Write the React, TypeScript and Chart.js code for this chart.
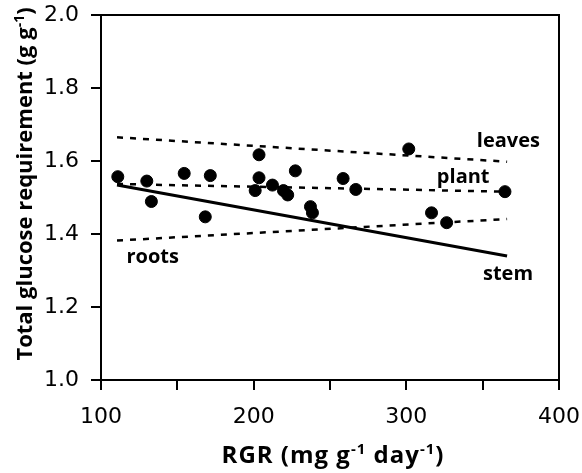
import React, { useEffect, useRef } from "react";
import { Chart, registerables } from "chart.js";

Chart.register(...registerables);

const rgr = [111, 130, 133, 154.5, 171.6, 168.3, 203.5, 203.5, 201, 212.3, 219.5, 222.3, 227.3, 237.2, 238.5, 258.6, 266.9, 301.6, 316.5, 326.4, 364.6];
const glucose = [1.557, 1.545, 1.489, 1.566, 1.56, 1.447, 1.617, 1.554, 1.519, 1.534, 1.519, 1.507, 1.573, 1.475, 1.458, 1.552, 1.522, 1.633, 1.458, 1.431, 1.516];

const lineX = [110.5, 366];
const leavesY = [1.665, 1.598];
const plantY = [1.537, 1.516];
const stemY = [1.534, 1.34];
const rootsY = [1.382, 1.441];

const xTicks = [100, 150, 200, 250, 300, 350, 400];
const xTickLabels = ["100", "", "200", "", "300", "", "400"];
const yTicks = [1.0, 1.2, 1.4, 1.6, 1.8, 2.0];

const lineLabels = ["leaves", "plant", "stem", "roots"];
const lineLabelPos = [
  [346.2, 1.638],
  [320, 1.54],
  [350.2, 1.274],
  [116.7, 1.321],
];

const FONT = "'DejaVu Sans', sans-serif";
const LABEL_FONT = "'Open Sans', sans-serif";

function drawRich(
  ctx: CanvasRenderingContext2D,
  parts: [string, boolean][],
  x: number,
  y: number,
  size: number,
  supSize: number,
  family: string,
  spacing: number
) {
  (ctx as any).letterSpacing = `${spacing}px`;
  let total = 0;
  for (const [t, sup] of parts) {
    ctx.font = `bold ${sup ? supSize : size}px ${family}`;
    total += ctx.measureText(t).width;
  }
  let cx = x - total / 2;
  ctx.textAlign = "left";
  ctx.textBaseline = "alphabetic";
  for (const [t, sup] of parts) {
    ctx.font = `bold ${sup ? supSize : size}px ${family}`;
    ctx.fillText(t, cx, sup ? y - size * 0.38 : y);
    cx += ctx.measureText(t).width;
  }
  (ctx as any).letterSpacing = "0px";
}

const decorPlugin = {
  id: "decor",
  afterDraw(chart: any) {
    const { ctx, chartArea, scales } = chart;
    ctx.save();
    ctx.strokeStyle = "#000";
    ctx.lineWidth = 2;
    ctx.strokeRect(chartArea.left, chartArea.top, chartArea.right - chartArea.left, chartArea.bottom - chartArea.top);

    ctx.fillStyle = "#000";
    ctx.font = `bold 20px ${LABEL_FONT}`;
    ctx.textAlign = "left";
    ctx.textBaseline = "alphabetic";
    lineLabels.forEach((t, i) => {
      const px = scales.x.getPixelForValue(lineLabelPos[i][0]);
      const py = scales.y.getPixelForValue(lineLabelPos[i][1]);
      ctx.fillText(t, px, py);
    });

    drawRich(
      ctx,
      [["RGR (mg g", false], ["-1", true], [" day", false], ["-1", true], [")", false]],
      333,
      463,
      24,
      15,
      LABEL_FONT,
      1
    );

    ctx.save();
    ctx.translate(32, 184);
    ctx.rotate(-Math.PI / 2);
    drawRich(ctx, [["Total glucose requirement (g g", false], ["-1", true], [")", false]], 0, 0, 22, 14, LABEL_FONT, 0);
    ctx.restore();
    ctx.restore();
  },
};

export default function App() {
  const ref = useRef<HTMLCanvasElement>(null);
  useEffect(() => {
    const lineDs = (label: string, ys: number[], dash: number[], width: number) => ({
      type: "line" as const,
      label,
      data: lineX.map((x, i) => ({ x, y: ys[i] })),
      borderColor: "#000",
      borderWidth: width,
      borderDash: dash,
      borderCapStyle: "butt",
      pointRadius: 0,
      fill: false,
      tension: 0,
    });
    const chart = new Chart(ref.current!, {
      type: "scatter",
      data: {
        datasets: [
          lineDs("leaves", leavesY, [6, 7], 2.5),
          lineDs("plant", plantY, [6, 7], 2.5),
          lineDs("stem", stemY, [], 3),
          lineDs("roots", rootsY, [6, 7], 2.5),
          {
            type: "scatter",
            label: "data",
            data: rgr.map((x, i) => ({ x, y: glucose[i] })),
            backgroundColor: "#000",
            borderColor: "#000",
            pointRadius: 6,
            pointHoverRadius: 6,
          },
        ],
      },
      options: {
        animation: false,
        responsive: false,
        maintainAspectRatio: false,
        layout: { padding: { top: 15, right: 23, left: 0, bottom: 0 } },
        plugins: { legend: { display: false }, tooltip: { enabled: false }, title: { display: false } },
        scales: {
          x: {
            type: "linear",
            min: 100,
            max: 400,
            afterBuildTicks: (s: any) => {
              s.ticks = xTicks.map((v) => ({ value: v }));
            },
            afterFit: (s: any) => {
              s.height = 93;
              s.paddingLeft = 0;
              s.paddingRight = 0;
            },
            ticks: {
              color: "#000",
              font: { family: FONT, size: 22 },
              padding: 14,
              maxRotation: 0,
              autoSkip: false,
              callback: (v: any) => xTickLabels[xTicks.indexOf(Number(v))] ?? "",
            },
            grid: { drawOnChartArea: false, color: "#000", lineWidth: 2, tickLength: 10 },
            border: { color: "#000", width: 2 },
          },
          y: {
            type: "linear",
            min: 1,
            max: 2,
            afterBuildTicks: (s: any) => {
              s.ticks = yTicks.map((v) => ({ value: v }));
            },
            afterFit: (s: any) => {
              s.width = 101;
              s.paddingTop = 0;
              s.paddingBottom = 0;
            },
            ticks: {
              color: "#000",
              font: { family: FONT, size: 22 },
              padding: 12,
              callback: (v: any) => Number(v).toFixed(1),
            },
            grid: { drawOnChartArea: false, color: "#000", lineWidth: 2, tickLength: 10 },
            border: { color: "#000", width: 2 },
          },
        },
      } as any,
      plugins: [decorPlugin],
    });
    return () => chart.destroy();
  }, []);
  return (
    <div style={{ position: "absolute", left: 0, top: 0, width: 582, height: 473, background: "#fff" }}>
      <canvas ref={ref} width={582} height={473} style={{ width: 582, height: 473 }} />
    </div>
  );
}
